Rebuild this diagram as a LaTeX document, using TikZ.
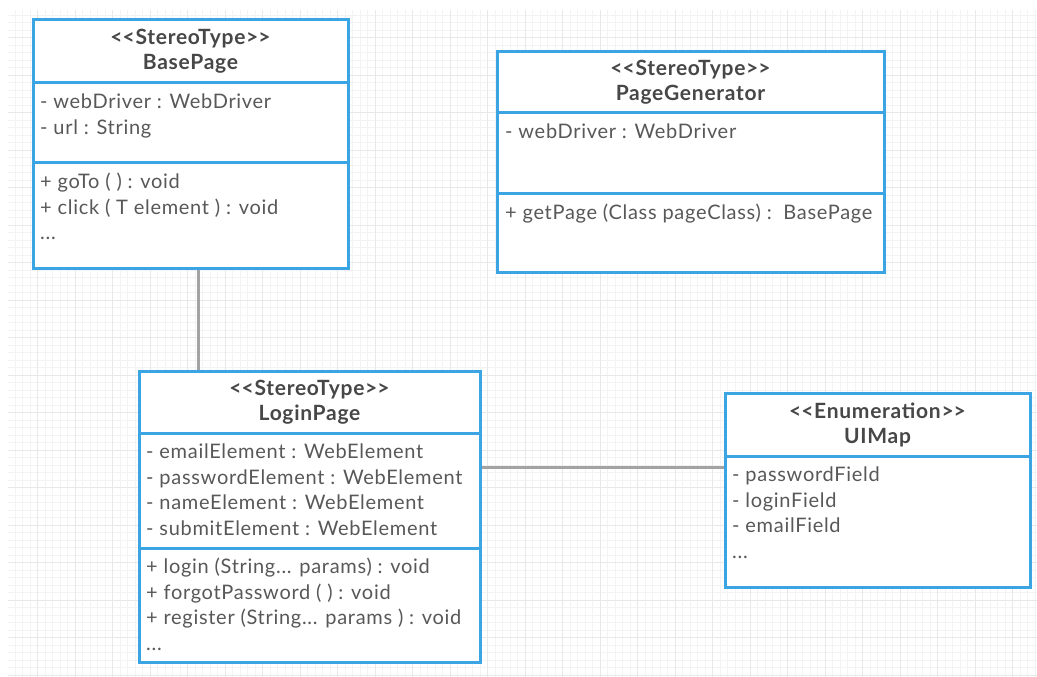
\documentclass[tikz,border=0pt]{standalone}
\usepackage{fontspec}
\setmainfont{Lato}[LetterSpace=3.5]
\usetikzlibrary{positioning, calc, backgrounds}
\definecolor{umlblue}{HTML}{3BA4E3}
\definecolor{linkgray}{HTML}{A3A3A3}
\definecolor{titlegray}{HTML}{474747}
\definecolor{textgray}{HTML}{585858}
\definecolor{gridminor}{HTML}{F3F3F3}
\definecolor{gridmajor}{HTML}{E8E8E8}
\newcommand{\stereotype}[1]{<\kern0pt<#1>\kern0pt>}

\begin{document}
\begin{tikzpicture}[
  x=1pt, y=-1pt,
  every node/.style={font=\fontsize{20}{25.5}\selectfont},
  compartment/.style={
    draw=umlblue, fill=white, line width=3pt,
    outer sep=0pt, inner sep=0pt, minimum width=#1,
  },
  classhead/.style={
    compartment=#1, align=center, text=titlegray,
    font=\fontsize{21}{25}\selectfont\bfseries,
  },
  members/.style={anchor=north west, inner sep=0pt, align=left, text=textgray},
  assoc/.style={draw=linkgray, line width=3pt},
]
\useasboundingbox (0,0) rectangle (1037,677);

% === BASEPAGE ===
\node[classhead=315pt, minimum height=63pt, anchor=north west] (basehead) at (33,20)
  {\stereotype{StereoType}\\BasePage};
\node[compartment=315pt, minimum height=79pt, below=0pt of basehead] (baseattr) {};
\node[compartment=315pt, minimum height=106pt, below=0pt of baseattr] (baseops) {};
\node[members] (baseattrtext) at ($(baseattr.north west)+(7,11)$)
  {- webDriver : WebDriver\\- url : String};
\node[members] (baseopstext) at ($(baseops.north west)+(7,11)$)
  {+ goTo ( ) : void\\+ click ( T element ) : void\\...};

% === PAGEGENERATOR ===
\node[classhead=387pt, minimum height=61pt, anchor=north west] (genhead) at (497,52)
  {\stereotype{StereoType}\\PageGenerator};
\node[compartment=387pt, minimum height=80pt, below=0pt of genhead] (genattr) {};
\node[compartment=387pt, minimum height=79pt, below=0pt of genattr] (genops) {};
\node[members] (genattrtext) at ($(genattr.north west)+(8,11)$)
  {- webDriver : WebDriver};
\node[members] (genopstext) at ($(genops.north west)+(8,11)$)
  {+ getPage (Class pageClass) :\ \ BasePage};

% === LOGINPAGE ===
\node[classhead=341pt, minimum height=62pt, anchor=north west] (loginhead) at (139,371)
  {\stereotype{StereoType}\\LoginPage};
\node[compartment=341pt, minimum height=115pt, below=0pt of loginhead] (loginattr) {};
\node[compartment=341pt, minimum height=114pt, below=0pt of loginattr] (loginops) {};
\node[members] (loginattrtext) at ($(loginattr.north west)+(7,11)$)
  {- emailElement : WebElement\\- passwordElement : WebElement\\
   - nameElement : WebElement\\- submitElement : WebElement};
\node[members] (loginopstext) at ($(loginops.north west)+(7,10)$)
  {+ login (String... params) : void\\+ forgotPassword ( ) : void\\
   + register (String... params ) : void\\...};

% === UIMAP ===
\node[classhead=305pt, minimum height=63pt, anchor=north west] (uihead) at (725,393)
  {\stereotype{Enumeration}\\UIMap};
\node[compartment=305pt, minimum height=131pt, below=0pt of uihead] (uiattr) {};
\node[members] (uiattrtext) at ($(uiattr.north west)+(7,11)$)
  {- passwordField\\- loginField\\- emailField\\...};

% Associations and grid behind the boxes
\begin{scope}[on background layer]
  \begin{scope}[y=1pt]
    \draw[gridminor, line width=0.5pt, step=7.5] (8,-677) grid (1037,-10);
    \draw[gridmajor, line width=0.5pt, step=37.5] (8,-677) grid (1037,-10);
  \end{scope}
  \coordinate (basejoin) at ($(baseops.south west)+(165,0)$);
  \draw[assoc] (basejoin) -- (basejoin |- loginhead.north);
  \coordinate (loginjoin) at ($(loginattr.north east)+(0,34)$);
  \draw[assoc] (loginjoin) -- (loginjoin -| uiattr.west);
\end{scope}

\end{tikzpicture}
\end{document}
